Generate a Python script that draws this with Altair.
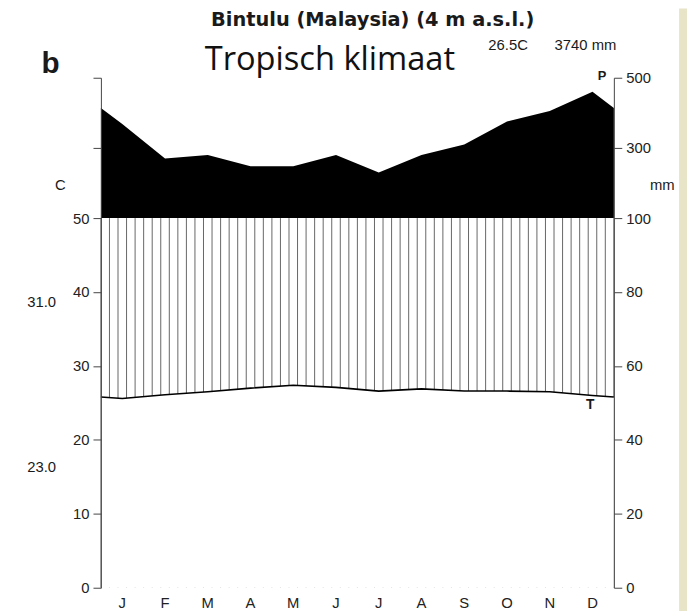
import altair as alt
import pandas as pd
import numpy as np

# ---- data ----
months = ["J", "F", "M", "A", "M", "J", "J", "A", "S", "O", "N", "D"]
temp_c = [25.6, 26.1, 26.5, 27.0, 27.4, 27.1, 26.6, 26.9, 26.6, 26.6, 26.5, 26.0]
precip_mm = [368, 270, 280, 248, 248, 280, 230, 280, 310, 375, 405, 460]
left_tick_values = [0, 10, 20, 30, 40, 50, 60, 70]
right_tick_labels = ["0", "20", "40", "60", "80", "100", "300", "500"]

W, H = 519, 516
H50 = 142  # pixel height of the compressed (>100 mm) part


def p_equiv(p):
    # Walter-Lieth: 20 mm = 10 C below 100 mm, scale reduced 1/10 above
    return p / 2 if p <= 100 else 50 + (p - 100) / 20


mid = [i + 0.5 for i in range(12)]
pe = [p_equiv(p) for p in precip_mm]
t_edge = (temp_c[0] + temp_c[-1]) / 2
p_edge = (pe[0] + pe[-1]) / 2
curve = pd.DataFrame({
    "x": [0] + mid + [12],
    "t": [t_edge] + temp_c + [t_edge],
    "p": [p_edge] + pe + [p_edge],
    "b50": 50.0,
    "b0": 0.0,
})
hatch = pd.DataFrame({"hx": np.round(np.arange(0, 12.0001, 0.2), 4)})
hatch["y0"] = 0.0
hatch["y1"] = 50.0
month_df = pd.DataFrame({"x": mid, "m": months})

xs = alt.Scale(domain=[0, 12], nice=False, zero=False)
ys = alt.Scale(domain=[0, 50, 70], range=[H, H50, 0], nice=False, zero=False)

AX = dict(labelFont="Liberation Sans", labelFontSize=15, labelColor="#222",
          tickColor="#444", domainColor="#444", tickSize=8, labelPadding=4,
          grid=False, title=None, zindex=1)

left_axis = alt.Axis(orient="left", values=left_tick_values,
                     labelExpr="datum.value <= 50 ? datum.label : ''", **AX)
right_expr = "[" + ",".join("'%s'" % s for s in right_tick_labels) + "][indexof([" + \
    ",".join(str(v) for v in left_tick_values) + "], datum.value)]"
right_axis = alt.Axis(orient="right", values=left_tick_values, labelExpr=right_expr, **AX)
x_axis = alt.Axis(orient="bottom", values=list(range(13)), labels=False, **AX)

bg = alt.Chart(pd.DataFrame({"a": [0]})).mark_rect(color="#E8E4C8").encode(
    x=alt.value(585), x2=alt.value(610), y=alt.value(-70), y2=alt.value(560))

rules = alt.Chart(hatch).mark_rule(color="#666", strokeWidth=1).encode(
    x=alt.X("hx:Q", scale=xs, axis=x_axis),
    y=alt.Y("y0:Q", scale=ys, axis=left_axis),
    y2="y1:Q")

right_ax_layer = alt.Chart(curve).mark_area(color="black", opacity=1).encode(
    x=alt.X("x:Q", scale=xs, axis=None),
    y=alt.Y("p:Q", scale=ys, axis=right_axis),
    y2="b50:Q")

white = alt.Chart(curve).mark_area(color="white", opacity=1).encode(
    x=alt.X("x:Q", scale=xs, axis=None),
    y=alt.Y("t:Q", scale=ys, axis=None),
    y2="b0:Q")

tline = alt.Chart(curve).mark_line(color="black", strokeWidth=1.6).encode(
    x=alt.X("x:Q", scale=xs, axis=None),
    y=alt.Y("t:Q", scale=ys, axis=None))

mlabels = alt.Chart(month_df).mark_text(font="Liberation Sans", fontSize=15, color="#222",
                                        baseline="middle").encode(
    x=alt.X("x:Q", scale=xs, axis=None), y=alt.value(H + 16), text="m:N")


def txt(s, x, y, size, weight="normal", font="Liberation Sans", align="center",
        baseline="middle", color="#1a1a1a"):
    return alt.Chart(pd.DataFrame({"s": [s]})).mark_text(
        font=font, fontSize=size, fontWeight=weight, align=align, baseline=baseline,
        color=color).encode(x=alt.value(x), y=alt.value(y), text="s:N")


texts = [
    txt("Bintulu (Malaysia) (4 m a.s.l.)", 275, -58, 19.6, "bold", font="DejaVu Sans"),
    txt("b", -51, -14, 30, "bold"),
    txt("Tropisch klimaat", 105, -8, 33, font="Open Sans", align="left", baseline="alphabetic", color="#111"),
    txt("26.5C", 392, -28, 15, align="left", baseline="alphabetic"),
    txt("3740 mm", 459, -28, 15, align="left", baseline="alphabetic"),
    txt("P", 507, -2, 13, "bold"),
    txt("T", 495, 331, 14, "bold"),
    txt("C", -41, 109, 15),
    txt("mm", 568, 109, 15),
    txt("31.0", -60, 227, 15),
    txt("23.0", -60, 394, 15),
]

chart = alt.layer(
    bg, rules, white, right_ax_layer, tline, mlabels, *texts
).resolve_scale(y="independent").properties(
    width=W, height=H,
    padding={"left": 94, "top": 67, "right": 74, "bottom": 22},
    autosize=alt.AutoSizeParams(type="none"),
    background="white",
).configure_view(stroke=None)

chart.save("out.html", embed_options={"renderer": "svg", "actions": False})
